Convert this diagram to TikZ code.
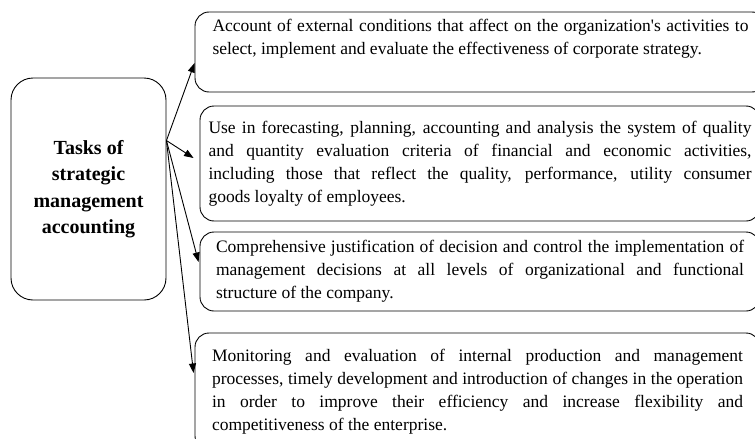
\documentclass[tikz,border=0pt]{standalone}
\usepackage{fontspec}
\setmainfont{Liberation Serif}
\usetikzlibrary{arrows.meta,calc}
% one justified line of a given width
\newcommand\jline[2]{\makebox[#1][s]{#2}}
\begin{document}
\begin{tikzpicture}[x=1pt,y=-1pt,
  hubbox/.style={draw, line width=0.9pt, rounded corners=22pt,
    minimum width=155pt, minimum height=222pt, inner sep=0pt, align=center,
    font=\fontsize{20}{26.5}\selectfont\bfseries},
  taskbox/.style={draw, line width=0.9pt, rounded corners=14pt,
    inner sep=0pt, align=left, font=\fontsize{17.5}{23}\selectfont},
  link/.style={line width=0.9pt, -{Triangle[length=9.5pt,width=7pt]}}]
\useasboundingbox (0,0) rectangle (755,439);
\clip (0,0) rectangle (755,439);

% central box
\node[hubbox] (L) at (88.5,189) {Tasks of\\strategic\\management\\accounting};

% task boxes
\node[taskbox, minimum width=571pt, minimum height=80pt] (B1) at (480.5,52)
  {\jline{536pt}{Account of external conditions that affect on the organization\textquotesingle s activities to}\\
   select, implement and evaluate the effectiveness of corporate strategy.\\
   \strut};

\node[taskbox, minimum width=560pt, minimum height=115pt] (B2) at (480,163.5)
  {\jline{543pt}{Use in forecasting, planning, accounting and analysis the system of quality}\\
   \jline{543pt}{and quantity evaluation criteria of financial and economic activities,}\\
   \jline{543pt}{including those that reflect the quality, performance, utility consumer}\\
   goods loyalty of employees.};

\node[taskbox, minimum width=560pt, minimum height=79pt] (B3) at (480,271.5)
  {\jline{528pt}{Comprehensive justification of decision and control the implementation of}\\
   \jline{528pt}{management decisions at all levels of organizational and functional}\\
   structure of the company.};

\node[taskbox, minimum width=565pt, minimum height=117pt] (B4) at (477.5,391.5)
  {\jline{531pt}{Monitoring and evaluation of internal production and management}\\
   \jline{531pt}{processes, timely development and introduction of changes in the operation}\\
   \jline{531pt}{in order to improve their efficiency and increase flexibility and}\\
   competitiveness of the enterprise.};

% connectors fanning out from one point on the central box
\coordinate (hub) at ($(L.north east)+(0,63)$);
\draw[link] (hub) -- ($(B1.west)+(0,11)$);
\draw[link] (hub) -- ($(B2.west)+(-6,-5.5)$);
\draw[link] (hub) -- ($(B3.west)+(-1,-9.5)$);
\draw[link] (hub) -- ($(B4.west)+(-1,-18.5)$);
\end{tikzpicture}
\end{document}
